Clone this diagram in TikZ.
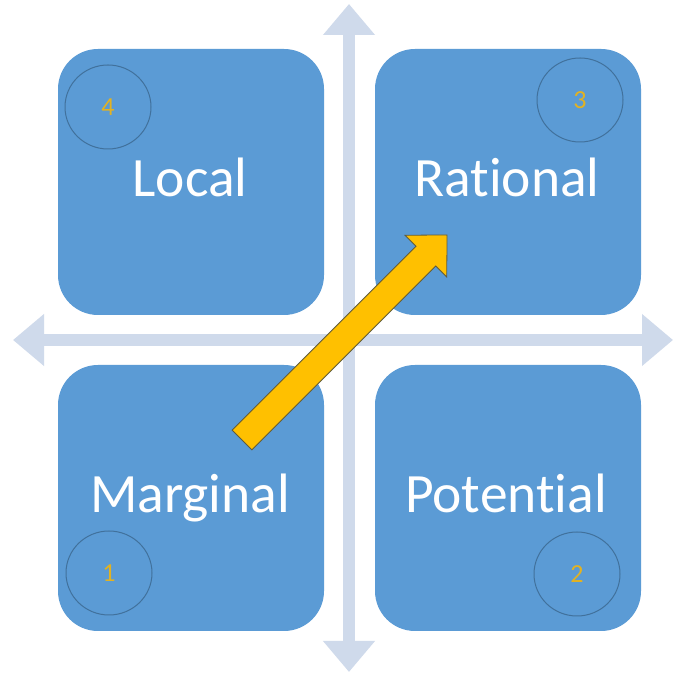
\documentclass[tikz,border=0pt]{standalone}
\usepackage{fontspec}
\setmainfont{Carlito}[RawFeature={-liga}]
\usetikzlibrary{arrows.meta,shapes.geometric}
\definecolor{boxblue}{HTML}{5B9BD5}
\definecolor{axisblue}{HTML}{CFDAEB}
\definecolor{ringblue}{HTML}{41719C}
\definecolor{digitgold}{HTML}{E2B222}
\definecolor{arrowgold}{HTML}{FFC000}
\definecolor{arrowedge}{HTML}{5F5B3C}
\tikzset{
  quad/.style={rectangle, fill=boxblue, draw=none, rounded corners=40pt,
    minimum width=266pt, minimum height=266pt, inner sep=0pt},
  quadlabel/.style={anchor=base, text=white, font=\fontsize{55.5}{62}\selectfont, inner sep=0pt},
  ring/.style={ellipse, draw=ringblue, line width=1pt, minimum width=86pt, minimum height=84pt, inner sep=0pt,
    text=digitgold, font=\fontsize{26}{29}\selectfont},
  axis/.style={draw=axisblue, line width=12pt,
    {Triangle[length=31pt,width=50pt]}-{Triangle[length=31pt,width=50pt]}},
}
\begin{document}
\begin{tikzpicture}[x=1pt,y=1pt]
\useasboundingbox (0,0) rectangle (676,676);
\fill[white] (0,0) rectangle (676,676);
% axes
\coordinate (axtop) at (349,672);
\coordinate (axbottom) at (349,4);
\coordinate (axleft) at (13,336);
\coordinate (axright) at (673,336);
\draw[axis] (axbottom) -- (axtop);
\draw[axis] (axleft) -- (axright);
% quadrants
\node[quad] (local) at (191,494) {};
\node[quad] (rational) at (508,494) {};
\node[quad] (marginal) at (191,178) {};
\node[quad] (potential) at (508,178) {};
\node[quadlabel] (tlocal) at (190,479) {Local};
\node[quadlabel] (trational) at (507,479) {Rational};
\node[quadlabel] (tmarginal) at (190,163) {Marginal};
\node[quadlabel] (tpotential) at (506,163) {Potential};
% numbered rings
\node[ring] (n4) at (108,569) {4};
\node[ring] (n3) at (580,576) {3};
\node[ring] (n1) at (109,103) {1};
\node[ring] (n2) at (577,102) {2};
% orange arrow
\coordinate (atail) at (242,236);
\coordinate (ahead) at (448,440);
\begin{scope}[shift={(atail)}, rotate=45]
\filldraw[fill=arrowgold, draw=arrowedge, line width=0.8pt, line join=miter]
  (0,-14) -- (260,-14) -- (260,-29.5) -- (290,0) -- (260,29.5) -- (260,14) -- (0,14) -- cycle;
\end{scope}
\end{tikzpicture}
\end{document}
